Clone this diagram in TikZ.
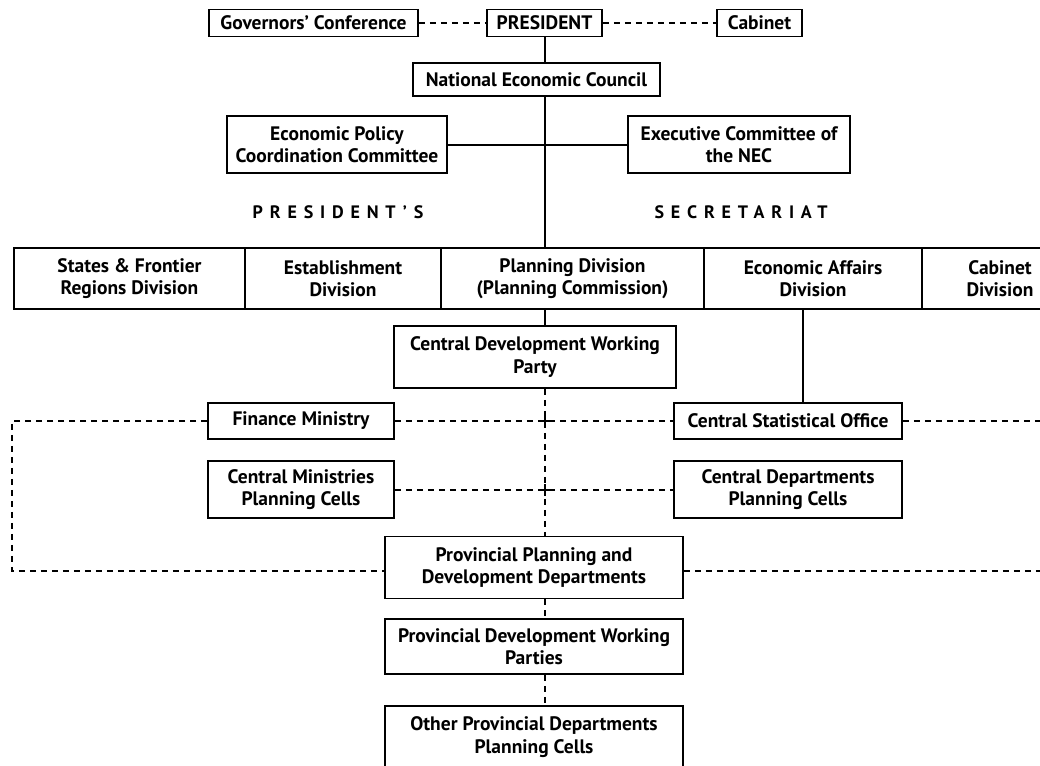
\documentclass[tikz,border=0pt]{standalone}
\usepackage{fontspec}
\setmainfont{PT Sans}
\begin{document}
\begin{tikzpicture}[x=1pt,y=-1pt,
  box/.style={draw, line width=1.8pt, inner sep=0pt, align=center,
    font=\bfseries\fontsize{19.5}{22.5}\selectfont},
  cell/.style={box},
  solidln/.style={line width=2pt},
  dsh/.style={line width=2pt, dash pattern=on 6pt off 5pt},
  lbl/.style={inner sep=0pt, font=\bfseries\fontsize{18}{20}\selectfont\addfontfeature{LetterSpace=38}}]
\useasboundingbox (0,0) rectangle (1040,765);
\clip (0,0) rectangle (1040,765);
% reference axes
\coordinate (ax) at (545,0);
\coordinate (ax2) at (803,0);
\coordinate (lb) at (12,571);
\coordinate (rt) at (1050,0);
% top row
\node[box, minimum width=209pt, minimum height=27pt] (gc) at (313.5,23) {Governors' Conference};
\node[box, minimum width=115pt, minimum height=27pt] (pres) at (544.5,23) {PRESIDENT};
\node[box, minimum width=85pt, minimum height=27pt] (cab) at (759.5,23) {Cabinet};
\node[box, minimum width=247pt, minimum height=33pt] (nec) at (536.5,79.5) {National Economic Council};
\node[box, minimum width=220pt, minimum height=57pt] (epcc) at (337,144.5) {Economic Policy\\Coordination Committee};
\node[box, minimum width=222pt, minimum height=57pt] (exc) at (739,144.5) {Executive Committee of\\the NEC};
% labels
\node[lbl] (lp) at (338,212) {PRESIDENT'S};
\node[lbl] (ls) at (741,212) {SECRETARIAT};
% division row
\node[cell, minimum width=231pt, minimum height=61pt] (sfr) at (129.5,278.5) {States \& Frontier\\Regions Division};
\node[cell, minimum width=196pt, minimum height=61pt] (est) at (343,278.5) {Establishment\\Division};
\node[cell, minimum width=263pt, minimum height=61pt] (pd) at (572.5,278.5) {Planning Division\\(Planning Commission)};
\node[cell, minimum width=218pt, minimum height=61pt] (ead) at (813,278.5) {Economic Affairs\\Division};
\node[cell, minimum width=156pt, minimum height=61pt] (cd) at (1000,278.5) {Cabinet\\Division};
% lower boxes
\node[box, minimum width=282pt, minimum height=62pt] (cdwp) at (535,357) {Central Development Working\\Party};
\node[box, minimum width=186pt, minimum height=36pt] (fin) at (301,421) {Finance Ministry};
\node[box, minimum width=228pt, minimum height=36pt] (cso) at (788,421) {Central Statistical Office};
\node[box, minimum width=186pt, minimum height=57pt] (cmpc) at (301,489.5) {Central Ministries\\Planning Cells};
\node[box, minimum width=228pt, minimum height=57pt] (cdpc) at (788,489.5) {Central Departments\\Planning Cells};
\node[box, minimum width=298pt, minimum height=62pt] (ppdd) at (534,567.5) {Provincial Planning and\\Development Departments};
\node[box, minimum width=298pt, minimum height=55pt] (pdwp) at (534,646.5) {Provincial Development Working\\Parties};
\node[box, minimum width=298pt, minimum height=62pt] (opdpc) at (534,737) {Other Provincial Departments\\Planning Cells};
% solid connectors
\draw[solidln] (pres.south -| ax) -- (nec.north -| ax);
\draw[solidln] (nec.south -| ax) -- (pd.north -| ax);
\draw[solidln] (epcc.east) -- (exc.west);
\draw[solidln] (pd.south -| ax) -- (cdwp.north -| ax);
\draw[solidln] (ead.south -| ax2) -- (cso.north -| ax2);
% dashed connectors
\draw[dsh] (gc) -- (pres);
\draw[dsh] (pres) -- (cab);
\draw[dsh] (cdwp.south -| ax) -- (ppdd.north -| ax);
\draw[dsh] (fin.east) -- (fin.east -| cso.west);
\draw[dsh] (cmpc.east) -- (cmpc.east -| cdpc.west);
\draw[dsh] (fin.west) -| (lb) -- (lb -| ppdd.west);
\draw[dsh] (cso.east) -- (cso.east -| rt);
\draw[dsh] (ppdd.east |- lb) -- (lb -| rt);
\draw[dsh] (ppdd.south -| ax) -- (pdwp.north -| ax);
\draw[dsh] (pdwp.south -| ax) -- (opdpc.north -| ax);
% crossings
\coordinate (c1) at (fin.east -| ax);
\coordinate (c2) at (cmpc.east -| ax);
\draw[solidln] ([xshift=-6pt]c1) -- ([xshift=6pt]c1) ([yshift=-6pt]c1) -- ([yshift=6pt]c1);
\draw[solidln] ([xshift=-6pt]c2) -- ([xshift=6pt]c2) ([yshift=-6pt]c2) -- ([yshift=6pt]c2);
\end{tikzpicture}
\end{document}
